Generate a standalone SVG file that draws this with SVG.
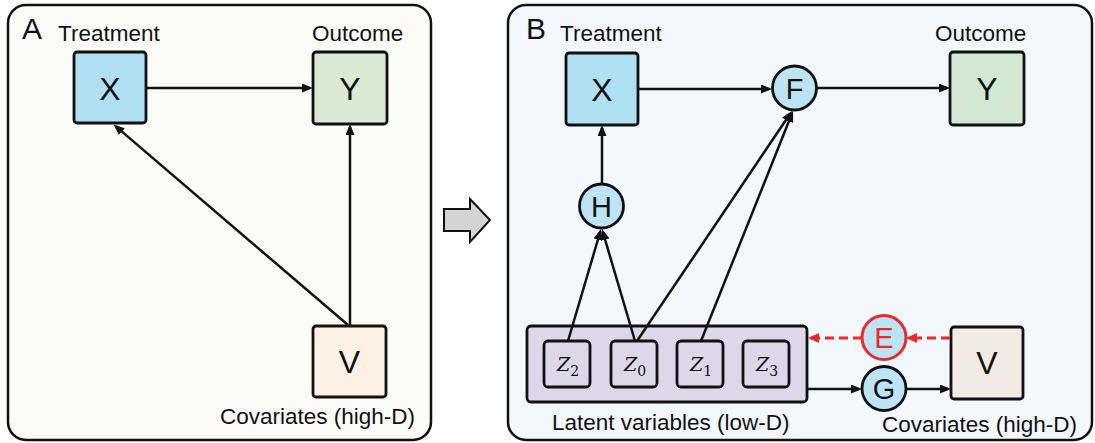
<svg xmlns="http://www.w3.org/2000/svg" width="1095" height="443" viewBox="0 0 1095 443">
<defs>
<style>
.panel{stroke:#111;stroke-width:2.5}
.box{stroke:#111;stroke-width:2.8}
.circ{fill:#bde4f4;stroke:#111;stroke-width:2.8}
.lbl{font-family:"Liberation Sans",Arial,sans-serif;fill:#111}
.cap{font-size:22.5px}
.big{font-size:32px;text-anchor:middle}
.mid{font-size:29px;text-anchor:middle}
.head{font-size:30px}
.zl{font-family:"DejaVu Serif","Liberation Serif",serif;font-style:italic;font-size:19px;fill:#111;text-anchor:middle}
.sub{font-style:normal;font-size:14px}
.edge{stroke:#111;stroke-width:2.5;fill:none}
.dash{stroke:#e8292e;stroke-width:3;fill:none;stroke-dasharray:9 5}
</style>
<marker id="ah" markerUnits="userSpaceOnUse" markerWidth="11" markerHeight="9" refX="8" refY="4.5" orient="auto">
<path d="M0,0 L11,4.5 L0,9 Z" fill="#111"/>
</marker>
<marker id="ahr" markerUnits="userSpaceOnUse" markerWidth="11" markerHeight="10" refX="8" refY="5" orient="auto">
<path d="M0,0 L11,5 L0,10 Z" fill="#e8292e"/>
</marker>
</defs>

<!-- Panel A -->
<g id="panelA">
<rect class="panel" x="8" y="5" width="423" height="435" rx="18" fill="#fbfbf8"/>
<text class="lbl head" x="22" y="39">A</text>
<text class="lbl cap" x="58" y="41">Treatment</text>
<text class="lbl cap" x="312" y="41">Outcome</text>
<text class="lbl cap" x="220" y="424">Covariates (high-D)</text>
</g>
<g id="A_X"><rect class="box" x="74" y="52" width="72" height="71" rx="3" fill="#aedff3"/><text class="lbl big" x="110" y="100">X</text></g>
<g id="A_Y"><rect class="box" x="313" y="52" width="74" height="72" rx="3" fill="#d9e9d3"/><text class="lbl big" x="350" y="100">Y</text></g>
<g id="A_V"><rect class="box" x="313" y="326" width="73" height="71" rx="3" fill="#fdf0e5"/><text class="lbl big" x="349.5" y="373">V</text></g>
<g id="A_edges">
<line class="edge" x1="146" y1="88" x2="310" y2="88" marker-end="url(#ah)"/>
<line class="edge" x1="350" y1="326" x2="350" y2="127" marker-end="url(#ah)"/>
<line class="edge" x1="348" y1="325" x2="115.8" y2="126.4" marker-end="url(#ah)"/>
</g>

<!-- Transition arrow -->
<g id="transition">
<path d="M444,209 L470,209 L470,199 L490,220 L470,242 L470,231 L444,231 Z" fill="#d3d3d3" stroke="#111" stroke-width="2"/>
</g>

<!-- Panel B -->
<g id="panelB">
<rect class="panel" x="508" y="5" width="584" height="435" rx="18" fill="#f3f8fc"/>
<text class="lbl head" x="526" y="39">B</text>
<text class="lbl cap" x="560" y="41">Treatment</text>
<text class="lbl cap" x="935" y="41">Outcome</text>
<text class="lbl cap" x="552" y="430">Latent variables (low-D)</text>
<text class="lbl cap" x="882" y="432">Covariates (high-D)</text>
</g>
<g id="B_X"><rect class="box" x="566" y="53" width="72" height="72" rx="3" fill="#aedff3"/><text class="lbl big" x="602" y="100.5">X</text></g>
<g id="B_Y"><rect class="box" x="950" y="52" width="74" height="73" rx="3" fill="#d3e8d2"/><text class="lbl big" x="987" y="100">Y</text></g>
<g id="B_F"><circle class="circ" cx="794.5" cy="88" r="22"/><text class="lbl mid" x="794.5" y="98.5">F</text></g>
<g id="B_H"><circle class="circ" cx="601.5" cy="206" r="22"/><text class="lbl mid" x="601.5" y="216.5">H</text></g>
<g id="B_latent">
<rect class="box" x="527" y="326" width="280" height="76" rx="4" fill="#dcd7e9"/>
<rect class="box" x="544" y="341" width="46" height="46" rx="4" fill="#dcd7e9"/>
<text class="zl" x="568" y="371">Z<tspan class="sub" dy="5">2</tspan></text>
<rect class="box" x="611" y="341" width="46" height="46" rx="4" fill="#dcd7e9"/>
<text class="zl" x="635" y="371">Z<tspan class="sub" dy="5">0</tspan></text>
<rect class="box" x="677" y="341" width="46" height="46" rx="4" fill="#dcd7e9"/>
<text class="zl" x="701" y="371">Z<tspan class="sub" dy="5">1</tspan></text>
<rect class="box" x="743" y="341" width="46" height="46" rx="4" fill="#dcd7e9"/>
<text class="zl" x="767" y="371">Z<tspan class="sub" dy="5">3</tspan></text>
</g>
<g id="B_E"><circle cx="884" cy="337.5" r="22" fill="#bde4f4" stroke="#e8292e" stroke-width="3"/><text class="lbl mid" x="884" y="348" style="fill:#e8292e">E</text></g>
<g id="B_G"><circle class="circ" cx="884" cy="388.5" r="22"/><text class="lbl mid" x="884" y="399">G</text></g>
<g id="B_V"><rect class="box" x="951" y="327" width="72" height="72" rx="3" fill="#f2ebe3"/><text class="lbl big" x="987" y="374">V</text></g>

<g id="B_edges">
<line class="edge" x1="638" y1="89" x2="769" y2="89" marker-end="url(#ah)"/>
<line class="edge" x1="817" y1="88" x2="947" y2="88" marker-end="url(#ah)"/>
<line class="edge" x1="602" y1="184" x2="602" y2="128" marker-end="url(#ah)"/>
<line class="edge" x1="568" y1="341" x2="600.2" y2="231.9" marker-end="url(#ah)"/>
<line class="edge" x1="635" y1="341" x2="602.8" y2="231.9" marker-end="url(#ah)"/>
<line class="edge" x1="637" y1="341" x2="790.3" y2="113.5" marker-end="url(#ah)"/>
<line class="edge" x1="701" y1="341" x2="791.9" y2="113.8" marker-end="url(#ah)"/>
<line class="edge" x1="808" y1="389" x2="859" y2="389" marker-end="url(#ah)"/>
<line class="edge" x1="906" y1="389" x2="948" y2="389" marker-end="url(#ah)"/>
<line class="dash" x1="950" y1="338" x2="909" y2="338" marker-end="url(#ahr)"/>
<line class="dash" x1="862" y1="338" x2="811" y2="338" marker-end="url(#ahr)"/>
</g>
</svg>
